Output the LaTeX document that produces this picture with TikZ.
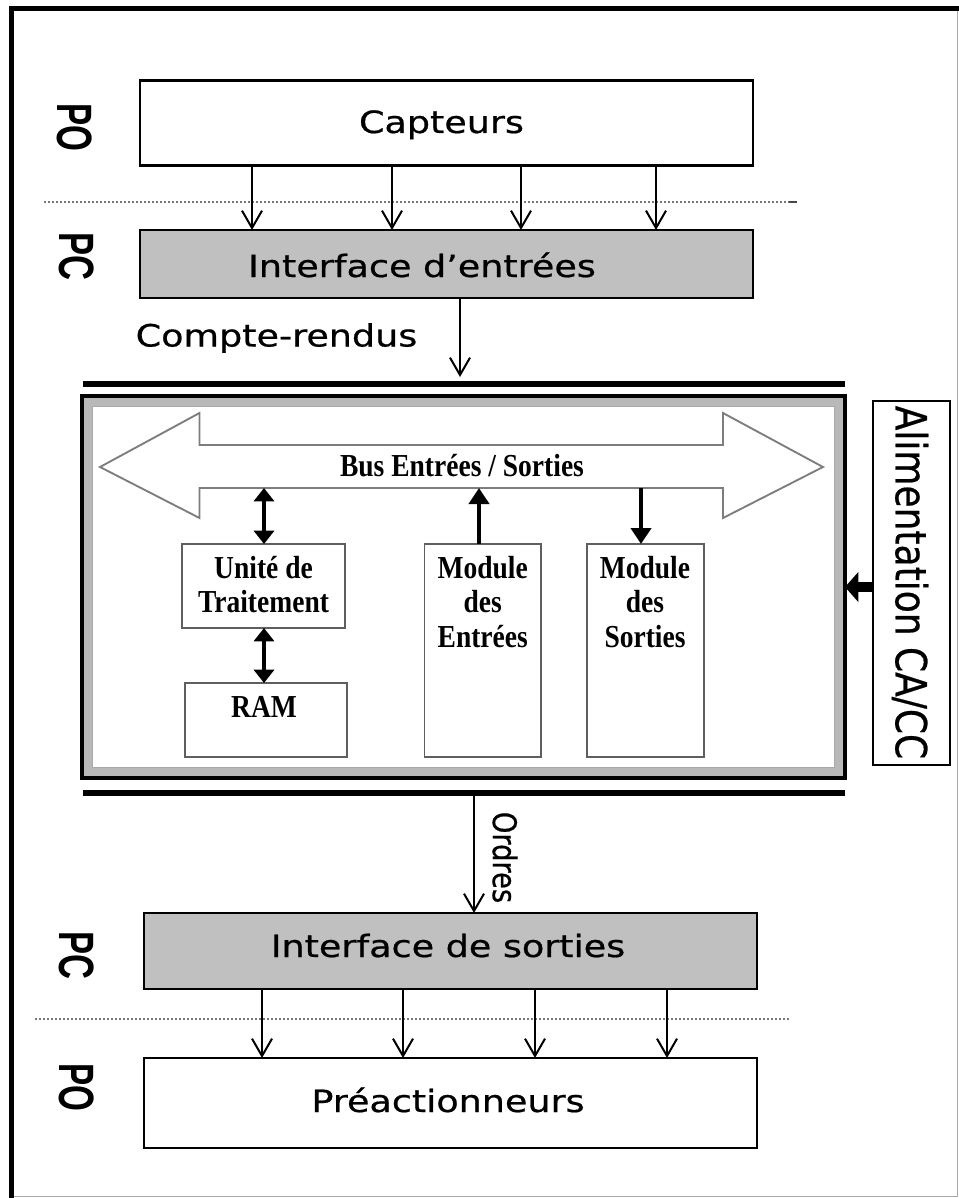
\documentclass[tikz,border=0pt]{standalone}
\usepackage{fontspec}
\usepackage{graphicx}
\setmainfont{DejaVu Sans}
\newfontfamily\heavysans{DejaVu Sans}[FakeBold=0.6]
\newfontfamily\timesfont{Liberation Serif}
\newfontfamily\arialfont{Liberation Sans}
\usetikzlibrary{arrows.meta}

\definecolor{boxgrey}{RGB}{192,192,192}
\definecolor{bandgrey}{RGB}{184,184,184}
\definecolor{unitgrey}{RGB}{95,95,95}
\definecolor{busgrey}{RGB}{125,125,125}
\definecolor{dotgrey}{RGB}{120,120,120}
\definecolor{edgegrey}{RGB}{170,170,170}

% wide sans labels, tall rotated labels, narrow serif labels
\newcommand{\wtxt}[1]{\scalebox{1.19}[1]{#1}}
\newcommand{\vtxt}[1]{\scalebox{1}[1.19]{#1}}
\newcommand{\cond}[1]{\scalebox{0.86}[1]{#1}}
\newcommand{\stk}[1]{\begin{tabular}[t]{@{}c@{}}#1\end{tabular}}
\newcommand{\sidetag}[1]{\resizebox{36pt}{26pt}{#1}}

\begin{document}
\begin{tikzpicture}[x=0.75pt, y=-0.75pt,
  every node/.style={inner sep=0pt, outer sep=0pt},
  mainbox/.style={draw=black, line width=1.9pt, fill=white, minimum width=459.75pt},
  greybox/.style={mainbox, fill=boxgrey},
  unitbox/.style={draw=unitgrey, line width=1.3pt, fill=white},
  sanslbl/.style={font=\heavysans\fontsize{23}{27}\selectfont, anchor=base},
  seriflbl/.style={font=\timesfont\fontsize{24}{25.9}\selectfont\bfseries, anchor=base},
  sidelbl/.style={rotate=-90, font=\arialfont\bfseries},
  thinarrow/.style={line width=1.5pt, -{Straight Barb[length=13pt,width=15pt]}},
  thickarrow/.style={line width=3.2pt, -{Triangle[length=12pt,width=15pt]}},
  dblarrow/.style={line width=3.2pt, {Triangle[length=10pt,width=15pt]}-{Triangle[length=10pt,width=15pt]}},
  alimarrow/.style={line width=8pt, -{Triangle[length=10pt,width=22pt]}},
  sepline/.style={draw=dotgrey, line width=1.2pt, dash pattern=on 1.5pt off 1.5pt},
  busbar/.style={line width=4.5pt},
]
\useasboundingbox (0,0) rectangle (959,1198);

% page frame
\draw[edgegrey, line width=1pt] (957.5,8.5) -- (957.5,1196.5) -- (11,1196.5);
\draw[line width=3.75pt] (11,1198) -- (11,8.5) -- (959,8.5);

% operative / command part tags
\node[sidelbl] (po1) at (74.5,127.5) {\sidetag{PO}};
\node[sidelbl] (pc1) at (76.5,256.5) {\sidetag{PC}};
\node[sidelbl] (pc2) at (76.5,955) {\sidetag{PC}};
\node[sidelbl] (po2) at (76.5,1087.5) {\sidetag{PO}};

% sensors and input interface
\node[mainbox, minimum height=63.75pt] (cap) at (446.5,123) {};
\node[sanslbl] (captxt) at (441.5,133) {\wtxt{Capteurs}};
\draw[sepline] (44,202) -- (789,202);
\draw[dotgrey!60!black, line width=1.6pt] (789,202) -- (797,202);
\node[greybox, minimum height=51pt] (ie) at (446.5,264) {};
\node[sanslbl] (ietxt) at (422,277) {\wtxt{Interface d’entrées}};
\foreach \x in {252,392,521,656}
  \draw[thinarrow] (\x,0 |- cap.south) -- (\x,0 |- ie.north);

\node[sanslbl] (crtxt) at (276.5,346.5) {\wtxt{Compte-rendus}};
\coordinate (crend) at (460,377);
\draw[thinarrow] (460,0 |- ie.south) -- (crend);

% PLC
\draw[busbar] (83,384) -- (845,384);
\draw[busbar] (83,793) -- (845,793);
\node[draw=black, line width=2.6pt, fill=bandgrey, minimum width=572.25pt, minimum height=286.5pt] (plc) at (463.5,587) {};
\node[draw=edgegrey, line width=0.6pt, fill=white, minimum width=556pt, minimum height=270.5pt] (plcin) at (463.5,587) {};

\draw[busgrey, line width=1.4pt, fill=white]
  (100,467) -- (199.5,413) -- (199.5,445) -- (723,445) -- (723,413) -- (823,467)
  -- (723,518) -- (723,488) -- (199.5,488) -- (199.5,518) -- cycle;
\node[minimum width=392.6pt, minimum height=32.25pt] (bus) at (461.25,466.5) {};
\node[seriflbl] (bustxt) at (462,476.7) {\cond{Bus Entrées / Sorties}};

\node[unitbox, minimum width=122.25pt, minimum height=63pt] (ut) at (263.5,586) {};
\node[seriflbl] (uttxt) at (263.5,578) {\stk{\cond{Unité de}\\\cond{Traitement}}};
\node[unitbox, minimum width=121.5pt, minimum height=55.5pt] (ram) at (266,720) {};
\node[seriflbl] (ramtxt) at (264,717) {\cond{RAM}};
\node[unitbox, minimum width=87.4pt, minimum height=159.75pt] (me) at (482.75,650.5) {};
\node[seriflbl] (metxt) at (482.75,578) {\stk{\cond{Module}\\\cond{des}\\\cond{Entrées}}};
\node[unitbox, minimum width=87.75pt, minimum height=159.75pt] (ms) at (645.5,650.5) {};
\node[seriflbl] (mstxt) at (645,578) {\stk{\cond{Module}\\\cond{des}\\\cond{Sorties}}};

\draw[dblarrow] (264,0 |- bus.south) -- (264,0 |- ut.north);
\draw[dblarrow] (264,0 |- ut.south) -- (264,0 |- ram.north);
\draw[thickarrow] (479,0 |- me.north) -- (479,0 |- bus.south);
\draw[thickarrow] (641,0 |- bus.south) -- (641,0 |- ms.north);

% power supply
\node[draw=black, line width=1.9pt, fill=white, minimum width=57.75pt, minimum height=273pt] (alim) at (911.5,583) {};
\node[rotate=-90, font=\heavysans\fontsize{27}{30}\selectfont] (alimtxt) at (910,582.5) {\vtxt{Alimentation CA/CC}};
\draw[alimarrow] (alim.west |- 0,587) -- (plc.east |- 0,587);

% output interface and pre-actuators
\coordinate (ordstart) at (474,796);
\node[greybox, minimum height=57pt] (isr) at (450.5,951) {};
\node[sanslbl] (isrtxt) at (448,957) {\wtxt{Interface de sorties}};
\draw[thinarrow] (ordstart) -- (474,0 |- isr.north);
\node[rotate=-90, font=\heavysans\fontsize{20.5}{24}\selectfont] (ordtxt) at (505,857.5) {\vtxt{Ordres}};

\draw[sepline] (35,1019) -- (789,1019);
\node[mainbox, minimum height=67.5pt] (pre) at (450.5,1103) {};
\node[sanslbl] (pretxt) at (448,1112) {\wtxt{Préactionneurs}};
\foreach \x in {262,403,535,667}
  \draw[thinarrow] (\x,0 |- isr.south) -- (\x,0 |- pre.north);
\end{tikzpicture}
\end{document}
